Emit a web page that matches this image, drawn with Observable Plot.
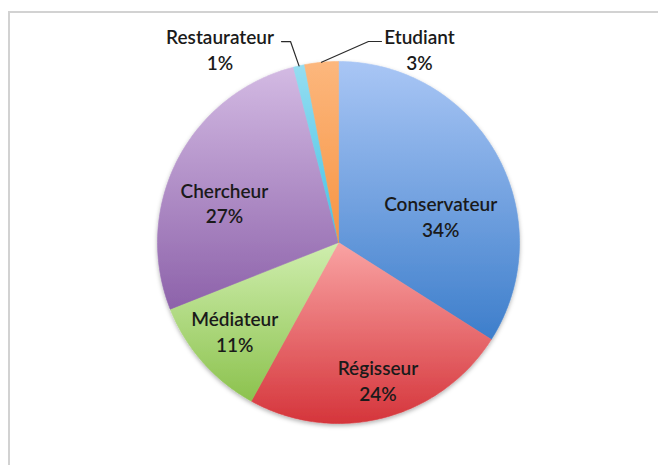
<!DOCTYPE html>
<html><head><meta charset="utf-8">
<script src="https://cdn.jsdelivr.net/npm/d3@7"></script>
<script src="https://cdn.jsdelivr.net/npm/@observablehq/plot@0.6"></script>
<style>
body{margin:0;background:#fff;}
#wrap{position:relative;width:662px;height:465px;overflow:hidden;background:#fff;}
#frame{position:absolute;left:8px;top:11px;width:648px;height:470px;border-left:2px solid #d2d2d2;border-top:2px solid #d2d2d2;}
#chart{position:absolute;left:0;top:0;}
</style></head><body>
<div id="wrap"><div id="frame"></div><div id="chart"></div></div>
<script>
// ---- data ----
const categories = ["Conservateur", "Régisseur", "Médiateur", "Chercheur", "Restaurateur", "Etudiant"];
const values = [34, 24, 11, 27, 1, 3];
const percentLabels = ["34%", "24%", "11%", "27%", "1%", "3%"];
const colorsTop = ["#a9c6f5", "#f9a3a3", "#cfeeae", "#d3bae3", "#95ddf1", "#fcb77d"];
const colorsBottom = ["#3d7ecb", "#d5353b", "#8cc24e", "#8d62aa", "#45c2e4", "#f79443"];

// ---- layout (pixels) ----
const W = 662, H = 465, cx = 338, cy = 242, R = 181;
const insideK = 0.72;
// text nudges (px) from mid-angle anchor
const nudge = {
  "Conservateur": [-12, 36],
  "Régisseur": [7, 11],
  "Médiateur": [-6, 2],
  "Chercheur": [2, 19]
};
// outside labels: elbow offset from edge point, horizontal tail, text offset
const outside = {
  "Restaurateur": {elbow: [-8.5, -24.3], tail: -9, text: [-79, -16.8]},
  "Etudiant": {elbow: [47, -20.8], tail: 13, text: [98, -13.3]}
};

const arcs = d3.pie().sort(null).value(d => d)(values);

const slicePts = [];
arcs.forEach((a, i) => {
  const name = categories[i];
  const n = Math.max(2, Math.ceil((a.endAngle - a.startAngle) / (2 * Math.PI) * 400));
  slicePts.push({name, x: 0, y: 0});
  for (let k = 0; k <= n; k++) {
    const t = a.startAngle + (a.endAngle - a.startAngle) * k / n;
    slicePts.push({name, x: Math.sin(t), y: Math.cos(t)});
  }
  slicePts.push({name, x: 0, y: 0});
});

const labels = [];
const leaderPts = [];
arcs.forEach((a, i) => {
  const name = categories[i];
  const mid = (a.startAngle + a.endAngle) / 2;
  const text = name + "\n" + percentLabels[i];
  if (outside[name]) {
    const o = outside[name];
    const ex = Math.sin(mid), ey = Math.cos(mid);
    const bx = ex + o.elbow[0] / R, by = ey - o.elbow[1] / R;
    leaderPts.push({name, x: ex, y: ey});
    leaderPts.push({name, x: bx, y: by});
    leaderPts.push({name, x: bx + o.tail / R, y: by});
    labels.push({text, x: ex + o.text[0] / R, y: ey - o.text[1] / R});
  } else {
    const nd = nudge[name] || [0, 0];
    labels.push({text, x: insideK * Math.sin(mid) + nd[0] / R, y: insideK * Math.cos(mid) - nd[1] / R});
  }
});

const svg = Plot.plot({
  width: W, height: H, margin: 0,
  style: {background: "transparent", overflow: "visible"},
  x: {domain: [-cx / R, (W - cx) / R], axis: null},
  y: {domain: [-(H - cy) / R, cy / R], axis: null},
  color: {domain: categories, range: categories.map((_, i) => `url(#grad${i})`)},
  marks: [
    Plot.line(slicePts, {x: "x", y: "y", z: "name", fill: "name", stroke: "name", strokeWidth: 0.6, curve: "linear"}),
    Plot.line(leaderPts, {x: "x", y: "y", z: "name", stroke: "#2b2b2b", strokeWidth: 1.2}),
    Plot.text(labels, {x: "x", y: "y", text: "text", fontSize: 19, fontWeight: 600, lineHeight: 1.34, fill: "#1a1a1a", fontFamily: "Lato, 'Open Sans', sans-serif"})
  ]
});

const s = d3.select(svg);
const defs = s.insert("defs", ":first-child");
categories.forEach((_, i) => {
  const g = defs.append("linearGradient").attr("id", `grad${i}`)
    .attr("x1", 0).attr("y1", 0).attr("x2", 0).attr("y2", 1);
  g.append("stop").attr("offset", "0%").attr("stop-color", colorsTop[i]);
  g.append("stop").attr("offset", "100%").attr("stop-color", colorsBottom[i]);
});
const f = defs.append("filter").attr("id", "shadow").attr("x", "-10%").attr("y", "-10%").attr("width", "120%").attr("height", "125%");
f.append("feDropShadow").attr("dx", 0).attr("dy", 2).attr("stdDeviation", 2.2).attr("flood-color", "#000").attr("flood-opacity", 0.3);
s.select('g[aria-label="line"]').attr("filter", "url(#shadow)");

document.getElementById("chart").appendChild(svg);
</script>
</body></html>
